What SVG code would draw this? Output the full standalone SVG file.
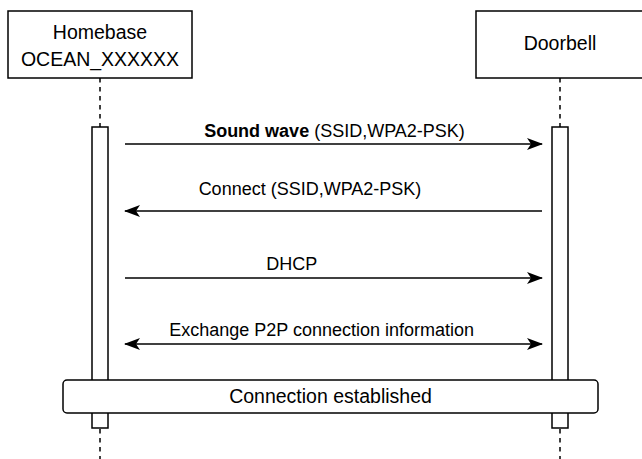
<svg xmlns="http://www.w3.org/2000/svg" width="642" height="459" viewBox="0 0 642 459">
<style>
text{font-family:"Liberation Sans",Arial,sans-serif;fill:#000}
.node{font-size:19.5px}
.msg{font-size:18px}
.box{fill:#fff;stroke:#000;stroke-width:1.5}
.life{stroke:#000;stroke-width:1.5;stroke-dasharray:4.5 4.5;fill:none}
.conn{stroke:#000;stroke-width:1.5;fill:none}
</style>
<defs>
<marker id="ah" viewBox="0 0 16 12" refX="15" refY="6" markerWidth="16" markerHeight="12" markerUnits="userSpaceOnUse" orient="auto-start-reverse">
<path d="M0,0 L16,6 L0,12 L4,6 Z" fill="#000"/>
</marker>
</defs>
<g id="lifelines">
<line class="life" x1="100" y1="78" x2="100" y2="459"/>
<line class="life" x1="560" y1="78" x2="560" y2="459"/>
</g>
<g id="homebase">
<rect class="box" x="8" y="11" width="184" height="67"/>
<text class="node" x="100" y="39" text-anchor="middle">Homebase</text>
<text class="node" x="100" y="66" text-anchor="middle">OCEAN_XXXXXX</text>
</g>
<g id="doorbell">
<rect class="box" x="476" y="11" width="184" height="67"/>
<text class="node" x="560" y="50" text-anchor="middle">Doorbell</text>
</g>
<g id="act-homebase">
<rect class="box" x="92" y="127" width="16" height="301"/>
</g>
<g id="act-doorbell">
<rect class="box" x="552" y="127" width="16" height="301"/>
</g>
<g id="connectors">
<line class="conn" x1="125" y1="144" x2="542" y2="144" marker-end="url(#ah)"/>
<line class="conn" x1="542" y1="211" x2="125" y2="211" marker-end="url(#ah)"/>
<line class="conn" x1="125" y1="278" x2="542" y2="278" marker-end="url(#ah)"/>
<line class="conn" x1="125" y1="344" x2="542" y2="344" marker-start="url(#ah)" marker-end="url(#ah)"/>
<text class="msg" x="334.5" y="137" text-anchor="middle"><tspan font-weight="bold">Sound wave</tspan> (SSID,WPA2-PSK)</text>
<text class="msg" x="310" y="195" text-anchor="middle">Connect (SSID,WPA2-PSK)</text>
<text class="msg" x="291.7" y="270" text-anchor="middle">DHCP</text>
<text class="msg" x="321.7" y="336" text-anchor="middle">Exchange P2P connection information</text>
</g>
<g id="connection-established">
<rect class="box" x="63" y="380" width="535" height="33" rx="4"/>
<text class="node" x="330.5" y="403" text-anchor="middle">Connection established</text>
</g>
</svg>
